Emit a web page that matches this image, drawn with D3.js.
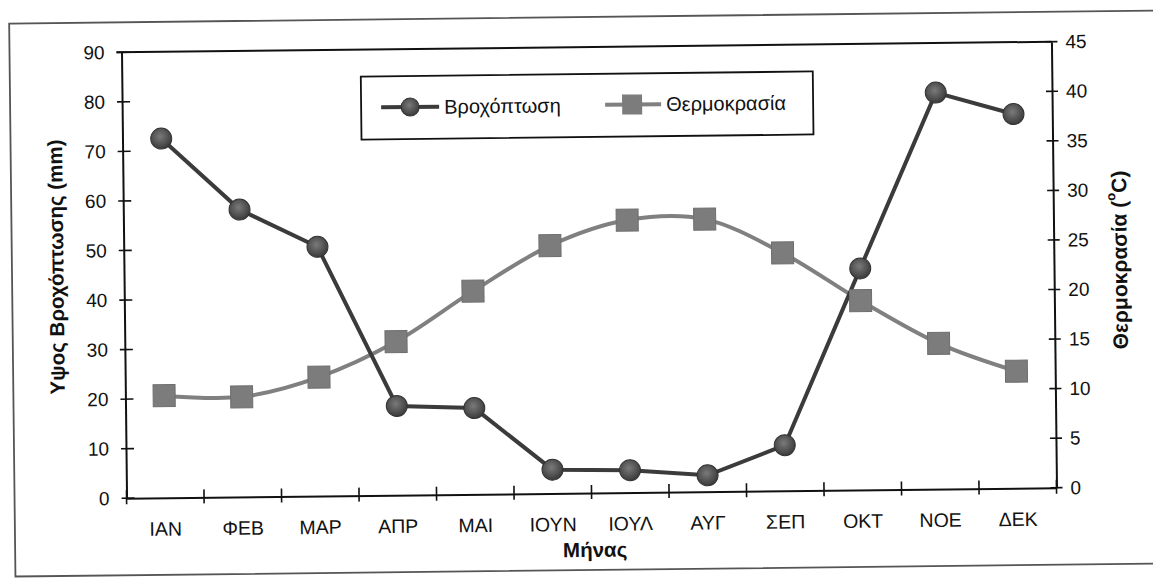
<!DOCTYPE html>
<html>
<head>
<meta charset="utf-8">
<script src="https://cdn.jsdelivr.net/npm/d3@7/dist/d3.min.js"></script>
<style>
  html, body { margin: 0; padding: 0; background: #fff; }
  svg { display: block; }
  text { font-family: "Liberation Sans", Arial, sans-serif; fill: #111; }
</style>
</head>
<body>
<svg id="chart" width="1153" height="580"></svg>
<script>
// Monthly rainfall (mm) and mean temperature (°C)
const months = ["ΙΑΝ", "ΦΕΒ", "ΜΑΡ", "ΑΠΡ", "ΜΑΙ", "ΙΟΥΝ", "ΙΟΥΛ", "ΑΥΓ", "ΣΕΠ", "ΟΚΤ", "ΝΟΕ", "ΔΕΚ"];
const rainfall = [72.5, 58, 50.3, 18, 17.4, 4.8, 4.5, 3.3, 9.2, 44.7, 80, 75.5];
const temperature = [10.3, 10.1, 12, 15.5, 20.5, 25, 27.5, 27.5, 24, 19.1, 14.7, 11.8];
const rainTicks = [0, 10, 20, 30, 40, 50, 60, 70, 80, 90];
const tempTicks = [0, 5, 10, 15, 20, 25, 30, 35, 40, 45];
const seriesNames = ["Βροχόπτωση", "Θερμοκρασία"];

const svg = d3.select("#chart");

// shaded fill for the rainfall markers
const grad = svg.append("defs").append("radialGradient")
  .attr("id", "ball").attr("cx", "45%").attr("cy", "40%").attr("r", "60%");
grad.append("stop").attr("offset", "0%").attr("stop-color", "#7a7a7a");
grad.append("stop").attr("offset", "100%").attr("stop-color", "#3a3a3a");

// plot box
const plotLeft = 124, plotTop = 47, W = 930, H = 446;
const cx = plotLeft + W / 2, cy = plotTop + H / 2;

// the whole sheet sits at a slight tilt
const root = svg.append("g").attr("transform", `rotate(-0.65, ${cx}, ${cy})`);

// outer frame
root.append("rect")
  .attr("x", 12).attr("y", 17)
  .attr("width", 1170).attr("height", 553)
  .attr("fill", "none").attr("stroke", "#555").attr("stroke-width", 1.8);

const g = root.append("g").attr("transform", `translate(${plotLeft},${plotTop})`);

const x = d3.scaleBand().domain(months).range([0, W]);
const yL = d3.scaleLinear().domain([0, 90]).range([H, 0]);
const yR = d3.scaleLinear().domain([0, 45]).range([H, 0]);
const xc = m => x(m) + x.bandwidth() / 2;

// plot area frame: top edge
g.append("line").attr("x1", -5).attr("x2", W).attr("y1", 0).attr("y2", 0)
  .attr("stroke", "#111").attr("stroke-width", 2);

// left axis
const axL = g.append("g").call(d3.axisLeft(yL).tickValues(rainTicks).tickSize(0).tickPadding(17));
axL.select(".domain").attr("stroke", "#111").attr("stroke-width", 2);
axL.selectAll("text").style("font-size", "19px").attr("fill", "#111");
g.append("g").selectAll("line").data(rainTicks).join("line")
  .attr("x1", -5).attr("x2", 8).attr("y1", d => yL(d)).attr("y2", d => yL(d))
  .attr("stroke", "#111").attr("stroke-width", 1.6);

// right axis
const axR = g.append("g").attr("transform", `translate(${W},0)`)
  .call(d3.axisRight(yR).tickValues(tempTicks).tickSize(0).tickPadding(14));
axR.select(".domain").attr("stroke", "#111").attr("stroke-width", 2);
axR.selectAll("text").style("font-size", "19px").attr("fill", "#111");
g.append("g").selectAll("line").data(tempTicks).join("line")
  .attr("x1", W - 6).attr("x2", W + 6).attr("y1", d => yR(d)).attr("y2", d => yR(d))
  .attr("stroke", "#111").attr("stroke-width", 1.6);

// bottom axis, ticks between months
const axB = g.append("g").attr("transform", `translate(0,${H})`)
  .call(d3.axisBottom(x).tickSize(0).tickPadding(24));
axB.select(".domain").attr("stroke", "#111").attr("stroke-width", 2);
axB.selectAll("text").style("font-size", "19.5px").attr("fill", "#111");
g.append("g").selectAll("line").data(months.slice(1).map(m => x(m)).concat([0, W])).join("line")
  .attr("x1", d => d).attr("x2", d => d).attr("y1", H - 8).attr("y2", H + 6)
  .attr("stroke", "#111").attr("stroke-width", 1.6);

// axis titles
g.append("text")
  .attr("transform", `translate(${58 - plotLeft},${261 - plotTop}) rotate(-90)`)
  .attr("text-anchor", "middle").attr("dominant-baseline", "middle")
  .style("font-size", "20.5px").style("font-weight", "bold")
  .text("Υψος Βροχόπτωσης (mm)");

const tTitle = g.append("text")
  .attr("transform", `translate(${1121 - plotLeft},${266 - plotTop}) rotate(-90)`)
  .attr("text-anchor", "middle").attr("dominant-baseline", "middle")
  .style("font-size", "21px").style("font-weight", "bold");
tTitle.append("tspan").text("Θερμοκρασία (");
tTitle.append("tspan").attr("dy", -8).style("font-size", "13px").text("o");
tTitle.append("tspan").attr("dy", 8).text("C)");

g.append("text")
  .attr("x", 592 - plotLeft).attr("y", 557 - plotTop)
  .attr("text-anchor", "middle")
  .style("font-size", "20.5px").style("font-weight", "bold")
  .text("Μήνας");

// series
const rainColor = "#3b3b3b", tempColor = "#808080";

const tempLine = d3.line().x((d, i) => xc(months[i])).y(d => yR(d)).curve(d3.curveCardinal.tension(0));
const rainLine = d3.line().x((d, i) => xc(months[i])).y(d => yL(d));

g.append("path").datum(temperature).attr("d", tempLine)
  .attr("fill", "none").attr("stroke", tempColor).attr("stroke-width", 4);
g.append("path").datum(rainfall).attr("d", rainLine)
  .attr("fill", "none").attr("stroke", rainColor).attr("stroke-width", 4);

const sq = 22;
g.append("g").selectAll("rect").data(temperature).join("rect")
  .attr("x", (d, i) => xc(months[i]) - sq / 2).attr("y", d => yR(d) - sq / 2)
  .attr("width", sq).attr("height", sq)
  .attr("fill", "#7c7c7c").attr("stroke", "#6e6e6e").attr("stroke-width", 1);

g.append("g").selectAll("circle").data(rainfall).join("circle")
  .attr("cx", (d, i) => xc(months[i])).attr("cy", d => yL(d)).attr("r", 10.5)
  .attr("fill", "url(#ball)").attr("stroke", "#333").attr("stroke-width", 1);

// legend
const lg = g.append("g").attr("transform", `translate(${363 - plotLeft},${74 - plotTop})`);
lg.append("rect").attr("width", 452).attr("height", 63)
  .attr("fill", "#fff").attr("stroke", "#111").attr("stroke-width", 1.8);
lg.append("line").attr("x1", 20).attr("x2", 78).attr("y1", 31).attr("y2", 31)
  .attr("stroke", rainColor).attr("stroke-width", 4);
lg.append("circle").attr("cx", 49).attr("cy", 31).attr("r", 9)
  .attr("fill", "url(#ball)").attr("stroke", "#333");
lg.append("text").attr("x", 83).attr("y", 38).style("font-size", "20px").text(seriesNames[0]);
lg.append("line").attr("x1", 244).attr("x2", 300).attr("y1", 31).attr("y2", 31)
  .attr("stroke", tempColor).attr("stroke-width", 4);
lg.append("rect").attr("x", 261).attr("y", 21).attr("width", 20).attr("height", 20)
  .attr("fill", "#7c7c7c");
lg.append("text").attr("x", 305).attr("y", 38).style("font-size", "20px").text(seriesNames[1]);
</script>
</body>
</html>
